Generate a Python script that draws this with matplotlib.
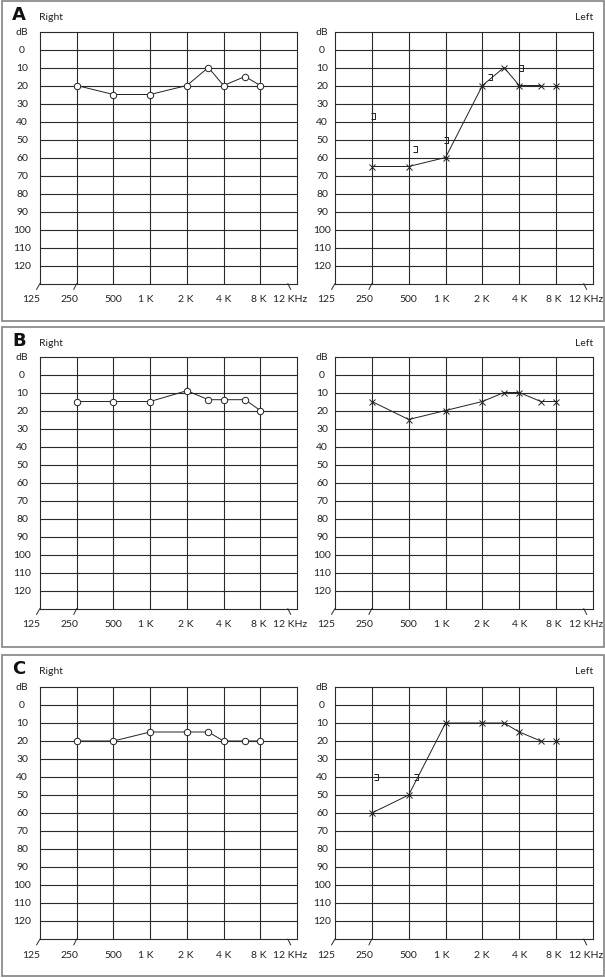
import matplotlib
matplotlib.use("Agg")
import matplotlib.pyplot as plt
import matplotlib.transforms as mtransforms
from matplotlib.path import Path
from matplotlib.patches import Rectangle

# ------------------------------------------------------------
# data
# ------------------------------------------------------------
FREQS = [250, 500, 1000, 2000, 3000, 4000, 6000, 8000]

A_RIGHT = [20, 25, 25, 20, 10, 20, 15, 20]
A_LEFT = [65, 65, 60, 20, 10, 20, 20, 20]
A_LEFT_JOINED = 7          # points joined by the line, the rest stand alone
A_BONE_FREQ = [255, 565, 1000, 2300, 4100]
A_BONE = [37, 55, 50, 15, 10]

B_RIGHT = [15, 15, 15, 9, 14, 14, 14, 20]
B_LEFT = [15, 25, 20, 15, 10, 10, 15, 15]
B_LEFT_JOINED = 8
B_BONE_FREQ = []
B_BONE = []

C_RIGHT = [20, 20, 15, 15, 15, 20, 20, 20]
C_LEFT = [60, 50, 10, 10, 10, 15, 20, 20]
C_LEFT_JOINED = 7
C_BONE_FREQ = [268, 575]
C_BONE = [40, 40]

GRID_FREQS = [250, 500, 1000, 2000, 4000, 8000]
DB_TICKS = list(range(0, 130, 10))
X_LABEL_FREQS = [125, 250, 500, 1000, 2000, 4000, 8000, 12000]
X_LABELS = ['125', '250', '500', '1 K', '2 K', '4 K', '8 K', '12 KHz']

# ------------------------------------------------------------
# layout (pixels on a 605 x 979 canvas)
# ------------------------------------------------------------
W, H = 605, 979
FONT = 'Lato'
LINE_C = '#2a2a2a'

# small nudges of the frequency labels, in pixels
X_LABEL_DX = [-9, -7, 0, -4, -1, 0, -2, -9]

PANELS = [
    # letter, box top/bottom, frame top, data
    ('A', 2, 322, 32.5, A_RIGHT, A_LEFT, A_LEFT_JOINED, A_BONE_FREQ, A_BONE),
    ('B', 328, 648, 357.5, B_RIGHT, B_LEFT, B_LEFT_JOINED, B_BONE_FREQ, B_BONE),
    ('C', 656, 977, 688, C_RIGHT, C_LEFT, C_LEFT_JOINED, C_BONE_FREQ, C_BONE),
]
FRAME_H = 252      # -10 .. 130 dB
RIGHT_X = (40, 297)
LEFT_X = (335, 593)

# bracket-shaped marker for masked bone conduction
BRACKET = Path([(-0.55, 1), (0.55, 1), (0.55, -1), (-0.55, -1)],
               [Path.MOVETO, Path.LINETO, Path.LINETO, Path.LINETO])

plt.rcParams['font.family'] = [FONT, 'DejaVu Sans']

fig = plt.figure(figsize=(W / 100, H / 100), dpi=100)


def fx(px):
    return px / W


def fy(py):
    return 1 - py / H


def make_audiogram(x0, x1, top, label_dx):
    ax = fig.add_axes([fx(x0), fy(top + FRAME_H), (x1 - x0) / W, FRAME_H / H])
    ax.set_xscale('log', base=2)
    ax.set_xlim(125, 16000)
    ax.set_ylim(130, -10)
    ax.tick_params(which='both', length=0, labelleft=False, labelbottom=False)
    ax.set_xticks([])
    ax.set_xticks([], minor=True)
    ax.set_yticks([])
    for s in ax.spines.values():
        s.set_color(LINE_C)
        s.set_linewidth(0.8)
    for f in GRID_FREQS:
        ax.axvline(f, color=LINE_C, lw=0.8, zorder=1)
    for d in DB_TICKS:
        ax.axhline(d, color=LINE_C, lw=0.8, zorder=1)

    # dB labels left of the frame
    tr = mtransforms.blended_transform_factory(fig.transFigure, ax.transData)
    lx = fx(x0 - label_dx)
    for d in DB_TICKS:
        ax.text(lx, d, str(d), transform=tr, ha='center', va='center',
                fontsize=7.5, color='#222')
    ax.text(lx, -10, 'dB', transform=tr, ha='center', va='center',
            fontsize=7.5, color='#222')

    # frequency labels under the frame
    for f, lab, dx in zip(X_LABEL_FREQS, X_LABELS, X_LABEL_DX):
        t = mtransforms.offset_copy(ax.transData, fig, x=dx, y=-15, units='dots')
        ax.text(f, 130, lab, transform=t, ha='left' if lab.endswith('Hz') else 'center',
                va='center', fontsize=7.5, color='#222', clip_on=False)

    # little slanted marks under the frame
    for f, dx0, dx1 in [(125, 0, -3.5), (250, 0, -3), (12000, 6, 9)]:
        t = mtransforms.offset_copy(ax.transData, fig, x=dx0, y=0, units='dots')
        ax.annotate('', xy=(f, 130), xycoords=t,
                    xytext=(dx1 - dx0, -6), textcoords='offset pixels',
                    arrowprops=dict(arrowstyle='-', lw=0.7, color=LINE_C,
                                    shrinkA=0, shrinkB=0),
                    annotation_clip=False)
    return ax


for letter, box_top, box_bot, top, right, left, joined, bfreq, bone in PANELS:
    # panel box
    fig.patches.append(Rectangle((fx(1.5), fy(box_bot)), fx(602), (box_bot - box_top) / H,
                                 transform=fig.transFigure, fill=False,
                                 edgecolor='#8c8c8c', lw=1.3))
    fig.text(fx(19), fy(box_top + 13), letter, ha='center', va='center',
             fontsize=13, fontweight='bold', family=['DejaVu Sans'], color='#111')
    fig.text(fx(39), fy(box_top + 15), 'Right', ha='left', va='center',
             fontsize=7.5, color='#222')
    fig.text(fx(593), fy(box_top + 15), 'Left', ha='right', va='center',
             fontsize=7.5, color='#222')

    # right ear
    ax_r = make_audiogram(RIGHT_X[0], RIGHT_X[1], top, 18)
    ax_r.plot(FREQS, right, color='#222', lw=0.7, marker='o', markersize=4.6,
              markerfacecolor='white', markeredgecolor='#222', markeredgewidth=0.7,
              zorder=3, clip_on=False)

    # left ear
    ax_l = make_audiogram(LEFT_X[0], LEFT_X[1], top, 13)
    ax_l.plot(FREQS[:joined], left[:joined], color='#222', lw=0.7, zorder=3)
    ax_l.plot(FREQS, left, ls='none', marker='x', markersize=3.8,
              markeredgecolor='#222', markeredgewidth=0.7, zorder=4)
    if bfreq:
        ax_l.plot(bfreq, bone, ls='none', marker=BRACKET, markersize=5,
                  markerfacecolor='none', markeredgecolor='#222',
                  markeredgewidth=0.7, zorder=4)

fig.savefig('out.png', dpi=100)
